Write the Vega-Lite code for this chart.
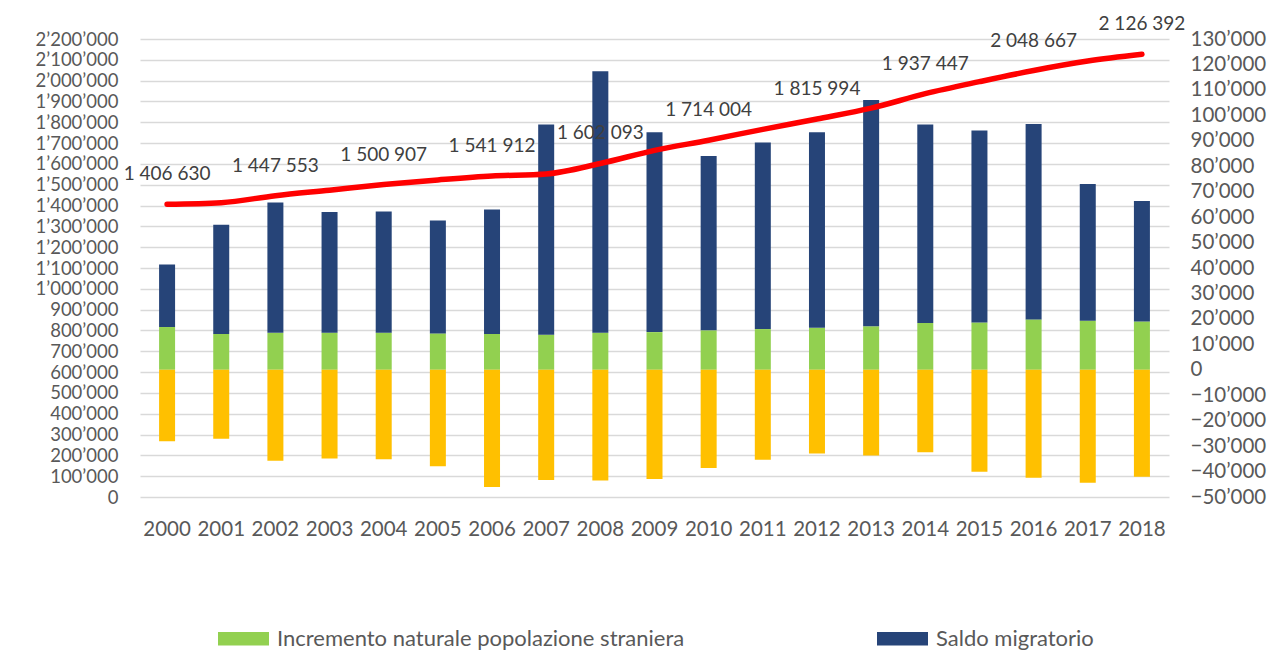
{
  "$schema": "https://vega.github.io/schema/vega-lite/v6.json",
  "width": 1029,
  "height": 458,
  "autosize": {"type": "none"},
  "padding": {"left": 140, "top": 39, "right": 115, "bottom": 153},
  "background": "white",
  "config": {
    "font": "Lato",
    "view": {"stroke": null},
    "axis": {"labelFont": "Lato", "labelFontSize": 20.5, "labelColor": "#595959", "domain": false, "ticks": false, "title": null, "labelOverlap": false}
  },
  "datasets": {
    "bars": [
      {"year": "2000", "series": "Incremento naturale popolazione straniera", "value": 16800},
      {"year": "2000", "series": "Saldo migratorio", "value": 24600},
      {"year": "2000", "series": "Naturalizzazioni", "value": -28100},
      {"year": "2001", "series": "Incremento naturale popolazione straniera", "value": 14100},
      {"year": "2001", "series": "Saldo migratorio", "value": 42900},
      {"year": "2001", "series": "Naturalizzazioni", "value": -27100},
      {"year": "2002", "series": "Incremento naturale popolazione straniera", "value": 14600},
      {"year": "2002", "series": "Saldo migratorio", "value": 51100},
      {"year": "2002", "series": "Naturalizzazioni", "value": -35800},
      {"year": "2003", "series": "Incremento naturale popolazione straniera", "value": 14600},
      {"year": "2003", "series": "Saldo migratorio", "value": 47400},
      {"year": "2003", "series": "Naturalizzazioni", "value": -34900},
      {"year": "2004", "series": "Incremento naturale popolazione straniera", "value": 14600},
      {"year": "2004", "series": "Saldo migratorio", "value": 47600},
      {"year": "2004", "series": "Naturalizzazioni", "value": -35200},
      {"year": "2005", "series": "Incremento naturale popolazione straniera", "value": 14300},
      {"year": "2005", "series": "Saldo migratorio", "value": 44400},
      {"year": "2005", "series": "Naturalizzazioni", "value": -37900},
      {"year": "2006", "series": "Incremento naturale popolazione straniera", "value": 14100},
      {"year": "2006", "series": "Saldo migratorio", "value": 48900},
      {"year": "2006", "series": "Naturalizzazioni", "value": -46100},
      {"year": "2007", "series": "Incremento naturale popolazione straniera", "value": 13800},
      {"year": "2007", "series": "Saldo migratorio", "value": 82600},
      {"year": "2007", "series": "Naturalizzazioni", "value": -43300},
      {"year": "2008", "series": "Incremento naturale popolazione straniera", "value": 14600},
      {"year": "2008", "series": "Saldo migratorio", "value": 102700},
      {"year": "2008", "series": "Naturalizzazioni", "value": -43500},
      {"year": "2009", "series": "Incremento naturale popolazione straniera", "value": 14800},
      {"year": "2009", "series": "Saldo migratorio", "value": 78600},
      {"year": "2009", "series": "Naturalizzazioni", "value": -42900},
      {"year": "2010", "series": "Incremento naturale popolazione straniera", "value": 15500},
      {"year": "2010", "series": "Saldo migratorio", "value": 68500},
      {"year": "2010", "series": "Naturalizzazioni", "value": -38600},
      {"year": "2011", "series": "Incremento naturale popolazione straniera", "value": 16000},
      {"year": "2011", "series": "Saldo migratorio", "value": 73300},
      {"year": "2011", "series": "Naturalizzazioni", "value": -35400},
      {"year": "2012", "series": "Incremento naturale popolazione straniera", "value": 16500},
      {"year": "2012", "series": "Saldo migratorio", "value": 76900},
      {"year": "2012", "series": "Naturalizzazioni", "value": -32900},
      {"year": "2013", "series": "Incremento naturale popolazione straniera", "value": 17100},
      {"year": "2013", "series": "Saldo migratorio", "value": 88900},
      {"year": "2013", "series": "Naturalizzazioni", "value": -33700},
      {"year": "2014", "series": "Incremento naturale popolazione straniera", "value": 18400},
      {"year": "2014", "series": "Saldo migratorio", "value": 78000},
      {"year": "2014", "series": "Naturalizzazioni", "value": -32400},
      {"year": "2015", "series": "Incremento naturale popolazione straniera", "value": 18600},
      {"year": "2015", "series": "Saldo migratorio", "value": 75400},
      {"year": "2015", "series": "Naturalizzazioni", "value": -40100},
      {"year": "2016", "series": "Incremento naturale popolazione straniera", "value": 19800},
      {"year": "2016", "series": "Saldo migratorio", "value": 76800},
      {"year": "2016", "series": "Naturalizzazioni", "value": -42400},
      {"year": "2017", "series": "Incremento naturale popolazione straniera", "value": 19300},
      {"year": "2017", "series": "Saldo migratorio", "value": 53700},
      {"year": "2017", "series": "Naturalizzazioni", "value": -44400},
      {"year": "2018", "series": "Incremento naturale popolazione straniera", "value": 19000},
      {"year": "2018", "series": "Saldo migratorio", "value": 47300},
      {"year": "2018", "series": "Naturalizzazioni", "value": -42000}
    ],
    "pop": [
      {"year": "2000", "pop": 1406630},
      {"year": "2001", "pop": 1414000},
      {"year": "2002", "pop": 1447553},
      {"year": "2003", "pop": 1474000},
      {"year": "2004", "pop": 1500907},
      {"year": "2005", "pop": 1523000},
      {"year": "2006", "pop": 1541912},
      {"year": "2007", "pop": 1552000},
      {"year": "2008", "pop": 1602093},
      {"year": "2009", "pop": 1665000},
      {"year": "2010", "pop": 1714004},
      {"year": "2011", "pop": 1766000},
      {"year": "2012", "pop": 1815994},
      {"year": "2013", "pop": 1868000},
      {"year": "2014", "pop": 1937447},
      {"year": "2015", "pop": 1995000},
      {"year": "2016", "pop": 2048667},
      {"year": "2017", "pop": 2094000},
      {"year": "2018", "pop": 2126392}
    ]
  },
  "layer": [
    {
      "data": {"name": "bars"},
      "mark": {"type": "bar", "width": 16},
      "encoding": {
        "x": {"field": "year", "type": "ordinal", "scale": {"paddingInner": 0.705, "paddingOuter": 0.3525}, "axis": {"labelAngle": 0, "labelPadding": 22, "grid": false}},
        "y": {"field": "value", "type": "quantitative", "stack": "zero",
          "scale": {"domain": [-50000, 130000], "nice": false, "zero": false},
          "axis": {"orient": "right", "grid": false, "labelPadding": 21,
            "values": [-50000, -40000, -30000, -20000, -10000, 0, 10000, 20000, 30000, 40000, 50000, 60000, 70000, 80000, 90000, 100000, 110000, 120000, 130000],
            "labelExpr": "replace(format(datum.value, ','), regexp(',', 'g'), '’')"}},
        "order": {"field": "series", "sort": "ascending"},
        "color": {"field": "series", "type": "nominal",
          "scale": {"domain": ["Incremento naturale popolazione straniera", "Saldo migratorio", "Naturalizzazioni"], "range": ["#92d050", "#264478", "#ffc000"]},
          "legend": {"values": ["Incremento naturale popolazione straniera", "Saldo migratorio"], "orient": "none", "legendX": 78, "legendY": 574, "direction": "horizontal", "title": null,
            "symbolType": "M-1,-0.26H1V0.26H-1Z", "symbolSize": 2601, "symbolStrokeWidth": 0, "symbolOpacity": 1,
            "labelFont": "Lato", "labelFontSize": 22, "labelColor": "#595959", "labelOffset": 8, "columnPadding": 192, "labelLimit": 700}}
      }
    },
    {
      "data": {"name": "pop"},
      "encoding": {
        "x": {"field": "year", "type": "ordinal"},
        "y": {"field": "pop", "type": "quantitative",
          "scale": {"domain": [0, 2200000], "nice": false},
          "axis": {"orient": "left", "grid": true, "gridColor": "#d9d9d9", "gridWidth": 1.5, "labelPadding": 22, "labelFontSize": 18.5,
            "values": [0, 100000, 200000, 300000, 400000, 500000, 600000, 700000, 800000, 900000, 1000000, 1100000, 1200000, 1300000, 1400000, 1500000, 1600000, 1700000, 1800000, 1900000, 2000000, 2100000, 2200000],
            "labelExpr": "replace(format(datum.value, ','), regexp(',', 'g'), '’')"}}
      },
      "layer": [
        {"mark": {"type": "line", "color": "#ff0000", "strokeWidth": 5.5, "interpolate": "monotone", "strokeCap": "round"}},
        {"transform": [{"filter": "toNumber(datum.year) % 2 == 0"}, {"calculate": "replace(format(datum.pop, ','), regexp(',', 'g'), ' ')", "as": "lab"}],
          "mark": {"type": "text", "dy": -30, "fontSize": 19, "font": "Lato", "color": "#404040"},
          "encoding": {"text": {"field": "lab"}}}
      ]
    }
  ],
  "resolve": {"scale": {"y": "independent"}}
}
